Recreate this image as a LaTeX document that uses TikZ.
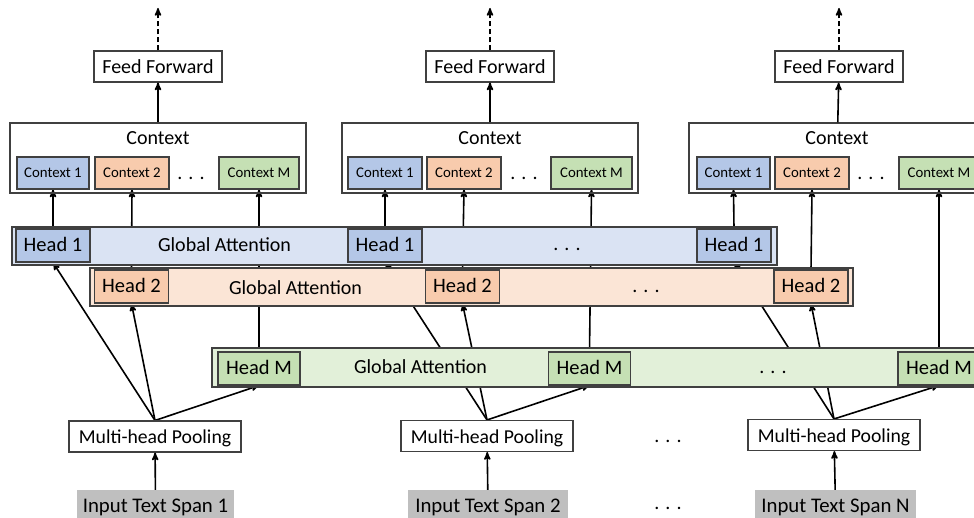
\documentclass[tikz,border=0pt]{standalone}
\usepackage{fontspec}
\setmainfont{Carlito}
\usetikzlibrary{positioning, arrows, backgrounds}

\definecolor{boxline}{HTML}{404040}
\definecolor{blueHead}{HTML}{B4C7E7}
\definecolor{blueBand}{HTML}{DAE3F3}
\definecolor{orangeHead}{HTML}{F8CBAD}
\definecolor{orangeBand}{HTML}{FBE5D6}
\definecolor{greenHead}{HTML}{C5E0B4}
\definecolor{greenBand}{HTML}{E2F0D9}
\definecolor{spanGray}{HTML}{BFBFBF}

\tikzset{
->, % every connector is directed
>=stealth', % small bold arrow heads
x=1pt, y=-1pt, % one unit is one pixel of the sketch, y runs down
every node/.style={inner sep=0pt, font=\fontsize{20}{22}\selectfont},
boxed/.style={draw=boxline, line width=1.1pt, text depth=0pt},
block/.style={boxed, fill=white, minimum height=31pt, text height=15pt},
pool/.style={block, text height=14.6pt, font=\fontsize{19.7}{21}\selectfont},
ctxouter/.style={draw=boxline, line width=1.1pt, minimum width=296pt, minimum height=70pt},
ctxinner/.style={boxed, minimum height=32pt, text height=9.4pt, font=\fontsize{14.8}{16}\selectfont},
band/.style={draw=boxline, line width=1.1pt, minimum height=38pt},
head/.style={boxed, minimum height=33pt, text height=12.6pt, font=\fontsize{20.5}{22}\selectfont},
span/.style={fill=spanGray, minimum height=31pt, text height=13.6pt, text depth=0pt, font=\fontsize{20.8}{23}\selectfont},
link/.style={line width=1.6pt},
}

\begin{document}
\begin{tikzpicture}
\useasboundingbox (0,0) rectangle (974,518);
\clip (0,0) rectangle (974,518);

% global attention bands
\node[band, fill=blueBand, minimum width=765pt] (ga1) at (394.5,246) {};
\node[band, fill=orangeBand, minimum width=763pt] (ga2) at (471.5,287) {};
\node[band, fill=greenBand, minimum width=773pt, minimum height=39pt] (ga3) at (598.5,367.5) {};
\node (gt1) at (224.5,244.5) {Global Attention};
\node (gt2) at (295.5,288) {Global Attention};
\node (gt3) at (420.5,367) {Global Attention};
\node (gd1) at (567,249) {. . .};
\node (gd2) at (646,291) {. . .};
\node (gd3) at (773,372) {. . .};

% heads
\node[head, fill=blueHead, minimum width=74pt] (hd11) at (53,245.5) {Head 1};
\node[head, fill=blueHead, minimum width=74pt] (hd21) at (385,245.5) {Head 1};
\node[head, fill=blueHead, minimum width=74pt] (hd31) at (734,245.5) {Head 1};
\node[head, fill=orangeHead, minimum width=74pt] (hd12) at (131.5,286.5) {Head 2};
\node[head, fill=orangeHead, minimum width=74pt] (hd22) at (462.5,286.5) {Head 2};
\node[head, fill=orangeHead, minimum width=74pt] (hd32) at (811,286.5) {Head 2};
\node[head, fill=greenHead, minimum width=82pt] (hd1M) at (259,368.5) {Head M};
\node[head, fill=greenHead, minimum width=82pt] (hd2M) at (589.5,368.5) {Head M};
\node[head, fill=greenHead, minimum width=82pt] (hd3M) at (939,368.5) {Head M};

% context and feed forward
\node[ctxouter] (ctx1) at (158,158) {};
\node[ctxouter] (ctx2) at (490,158) {};
\node[ctxouter] (ctx3) at (837,158) {};
\node[below=8.5pt of ctx1.north] (ctxt1) {Context};
\node[below=8.5pt of ctx2.north] (ctxt2) {Context};
\node[below=8.5pt of ctx3.north] (ctxt3) {Context};
\node[ctxinner, fill=blueHead, minimum width=72pt] (cx11) at (53,173) {Context 1};
\node[ctxinner, fill=orangeHead, minimum width=74pt] (cx12) at (132,173) {Context 2};
\node[ctxinner, fill=greenHead, minimum width=80pt] (cx1M) at (259,173) {Context M};
\node[ctxinner, fill=blueHead, minimum width=74pt] (cx21) at (385,173) {Context 1};
\node[ctxinner, fill=orangeHead, minimum width=74pt] (cx22) at (464,173) {Context 2};
\node[ctxinner, fill=greenHead, minimum width=81pt] (cx2M) at (591.5,173) {Context M};
\node[ctxinner, fill=blueHead, minimum width=73pt] (cx31) at (733.5,173) {Context 1};
\node[ctxinner, fill=orangeHead, minimum width=74pt] (cx32) at (812,173) {Context 2};
\node[ctxinner, fill=greenHead, minimum width=80pt] (cx3M) at (939,173) {Context M};
\node (cd1) at (191,178) {. . .};
\node (cd2) at (524,178) {. . .};
\node (cd3) at (871,178) {. . .};
\node[block, minimum width=128pt] (ff1) at (158,66.5) {Feed Forward};
\node[block, minimum width=128pt] (ff2) at (490,66.5) {Feed Forward};
\node[block, minimum width=128pt] (ff3) at (839,66.5) {Feed Forward};
\coordinate (out1) at (158,8);
\coordinate (out2) at (490,8);
\coordinate (out3) at (839,8);

% pooling and inputs
\node[pool, minimum width=172pt] (mhp1) at (155,436.5) {Multi-head Pooling};
\node[pool, minimum width=172pt] (mhp2) at (487,436) {Multi-head Pooling};
\node[pool, minimum width=172pt] (mhp3) at (834,435) {Multi-head Pooling};
\node (md) at (668,441) {. . .};
\node[span, minimum width=157pt] (in1) at (155.5,505.5) {Input Text Span 1};
\node[span, minimum width=160pt] (in2) at (488,505.5) {Input Text Span 2};
\node[span, minimum width=161pt] (in3) at (835.5,505.5) {Input Text Span N};
\node (id) at (668,508) {. . .};

% connectors behind the bands
\begin{scope}[on background layer]
\draw[link] (mhp1.north) edge (hd11.south)
(mhp1.north) edge (hd12.south)
(mhp1.north) edge (hd1M.south)
(mhp2.north) edge (hd21.south)
(mhp2.north) edge (hd22.south)
(mhp2.north) edge (hd2M.south)
(mhp3.north) edge (hd31.south)
(mhp3.north) edge (hd32.south)
(mhp3.north) edge (hd3M.south);
\draw[link] (hd11.north) edge (cx11.south)
(hd12.north) edge (cx12.south)
(hd1M.north) edge (cx1M.south)
(hd21.north) edge (cx21.south)
(hd22.north) edge (cx22.south)
(hd2M.north) edge (cx2M.south)
(hd31.north) edge (cx31.south)
(hd32.north) edge (cx32.south)
(hd3M.north) edge (cx3M.south);
\end{scope}

\draw[link] (in1) edge (mhp1)
(in2) edge (mhp2)
(in3) edge (mhp3)
(ctx1) edge (ff1)
(ctx2) edge (ff2)
(ctx3) edge (ff3);
\draw[link, dash pattern=on 5pt off 3pt] (ff1) edge (out1)
(ff2) edge (out2)
(ff3) edge (out3);
\end{tikzpicture}
\end{document}
